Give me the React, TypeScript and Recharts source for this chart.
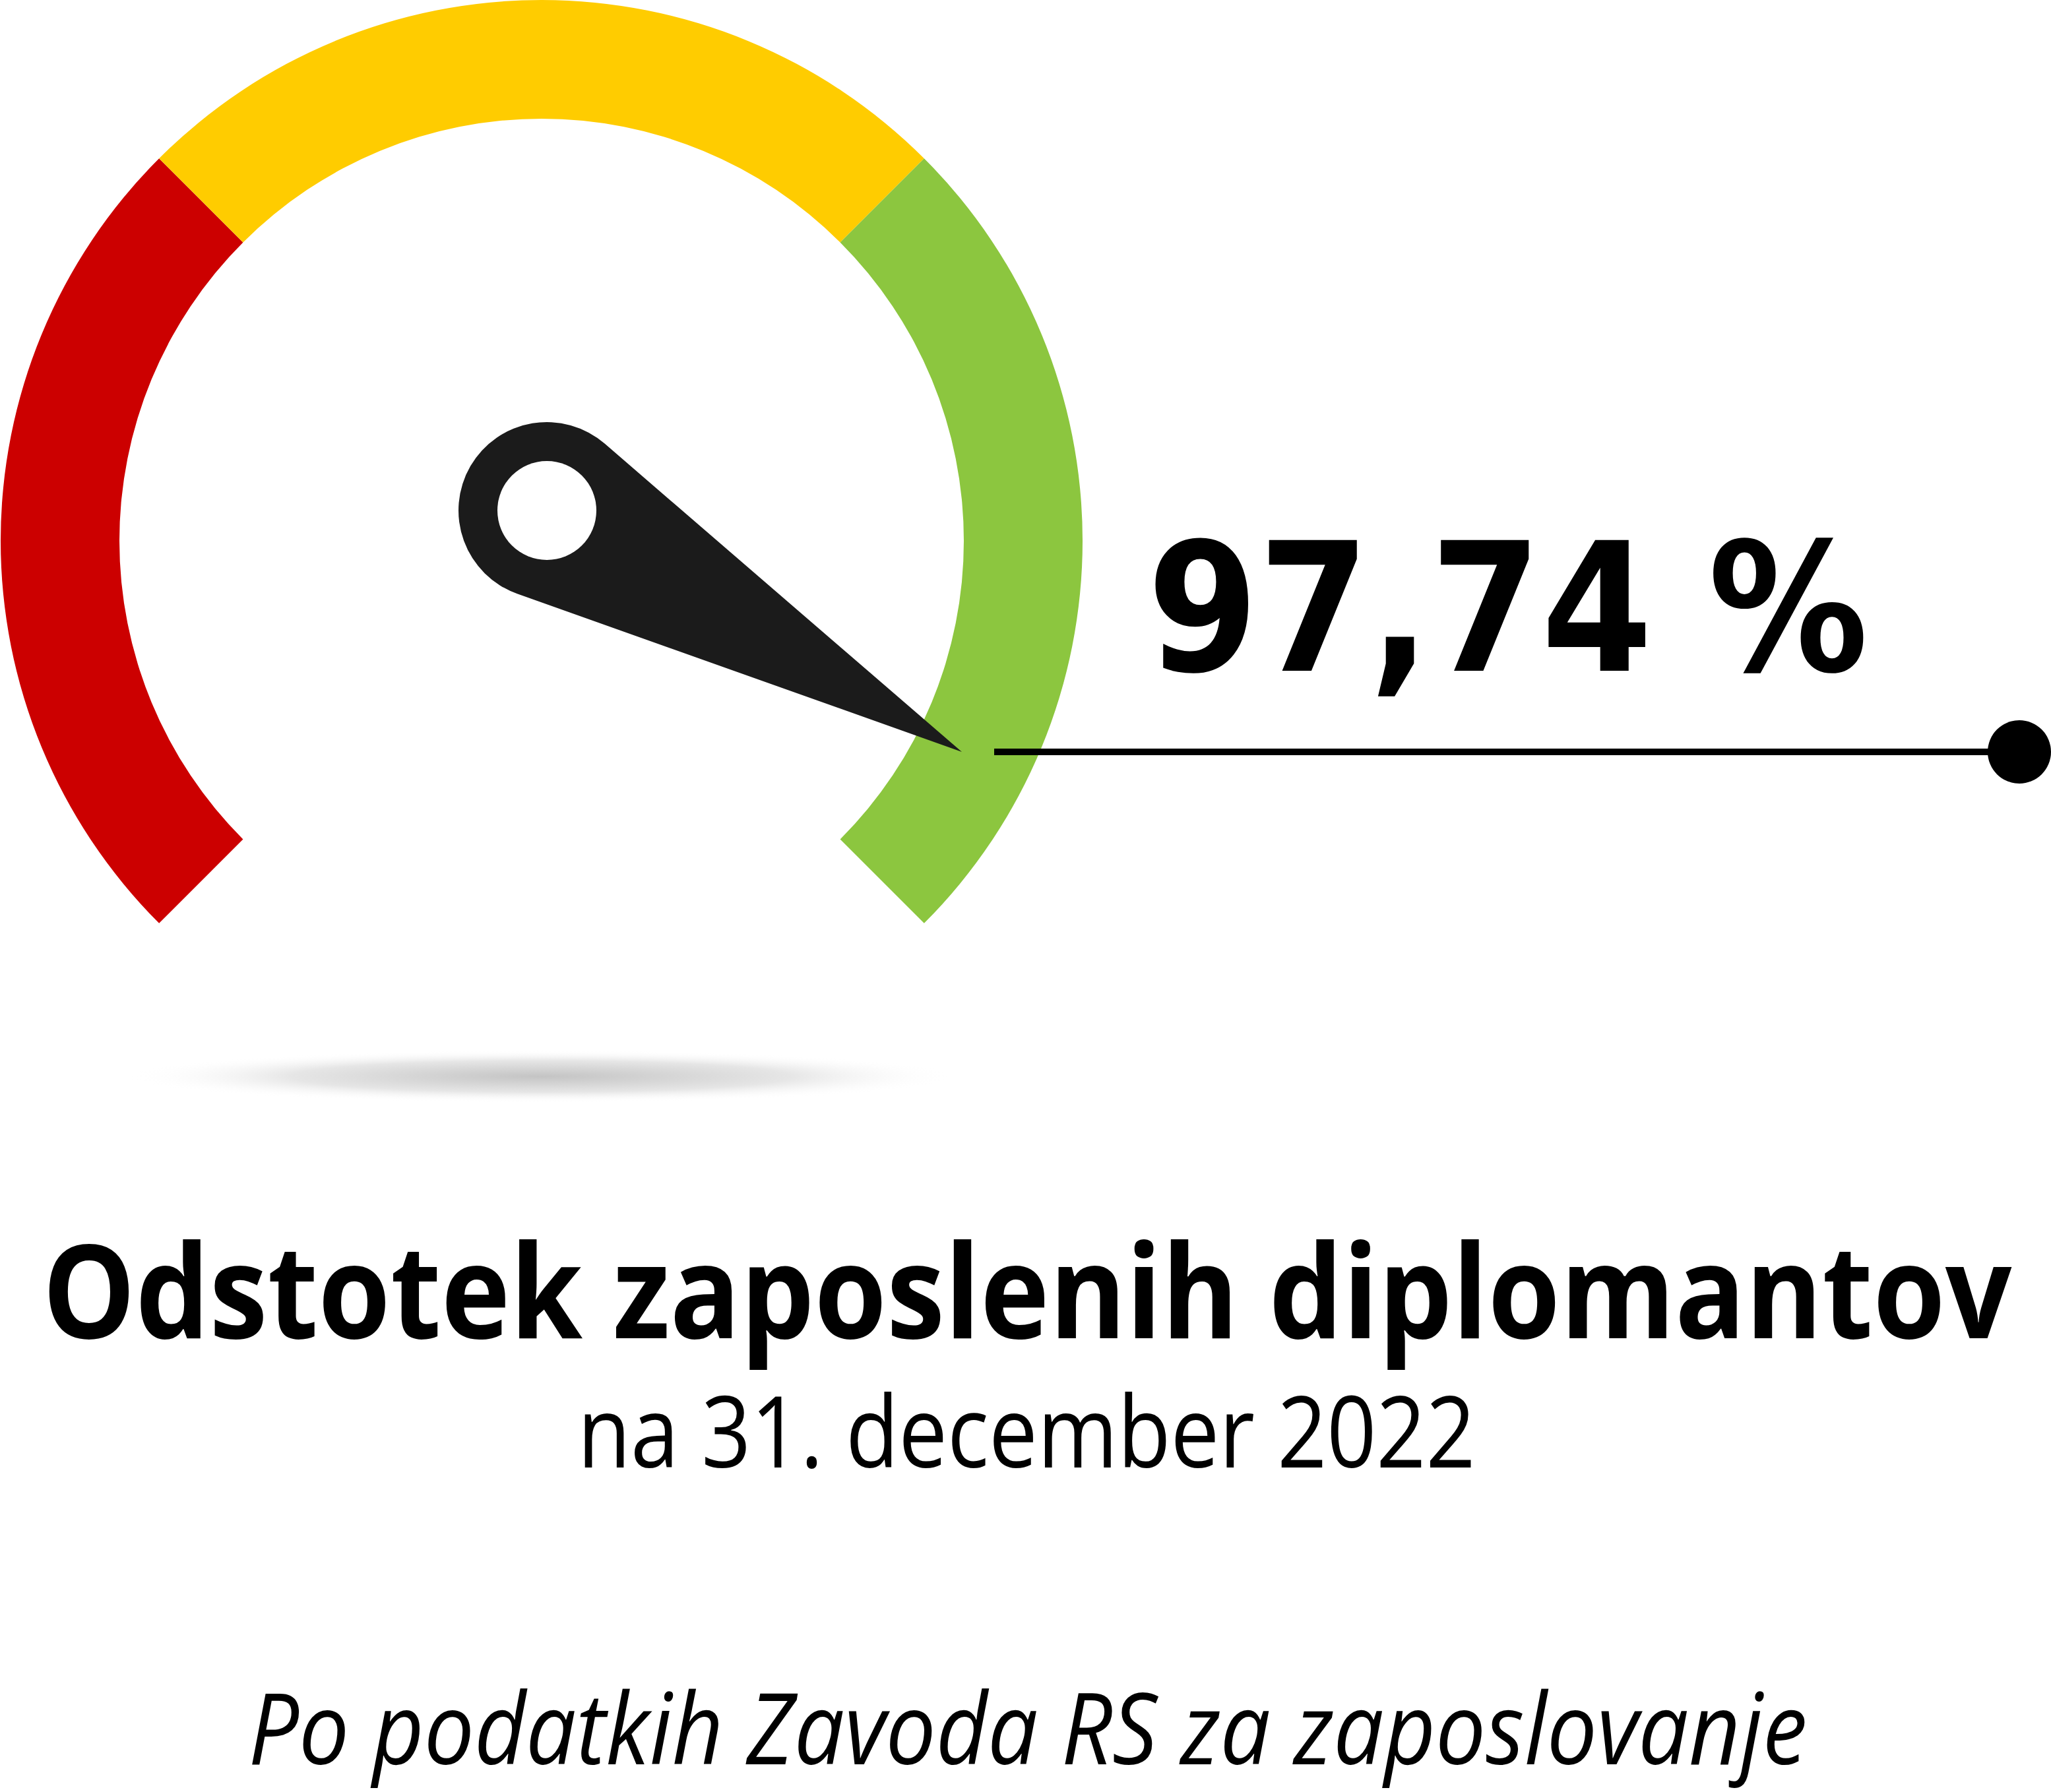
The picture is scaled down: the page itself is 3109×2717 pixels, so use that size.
import React from "react";
import { PieChart, Pie, Cell } from "recharts";

// gauge bands (equal thirds) and the reported share
const bandNames = ["nizko", "srednje", "visoko"];
const bandValues = [1, 1, 1];
const bandColors = ["#cc0000", "#ffcc00", "#8cc63f"];
const employedPct = [97.74];

const titleText = "Odstotek zaposlenih diplomantov";
const dateText = "na 31. december 2022";
const sourceText = "Po podatkih Zavoda RS za zaposlovanje";

const W = 3109;
const H = 2717;
const CX = 821;
const CY = 820;

const bands = bandNames.map((name, i) => ({ name, value: bandValues[i] }));

const formatPct = (v: number) => v.toFixed(2).replace(".", ",") + " %";

// needle + leader line, drawn above the pie
const Overlay = () => {
  const hx = CX + 8;
  const hy = CY - 46;
  const r = 134;
  const tx = 1458;
  const ty = 1140;
  const d = Math.hypot(tx - hx, ty - hy);
  const th = Math.atan2(ty - hy, tx - hx);
  const a = Math.acos(r / d);
  const p1 = [hx + r * Math.cos(th - a), hy + r * Math.sin(th - a)];
  const p2 = [hx + r * Math.cos(th + a), hy + r * Math.sin(th + a)];
  const path = `M${tx},${ty} L${p1[0]},${p1[1]} A${r},${r} 0 1 0 ${p2[0]},${p2[1]} Z`;
  return (
    <svg
      width={W}
      height={H}
      style={{ position: "absolute", left: 0, top: 0, pointerEvents: "none" }}
    >
      <path d={path} fill="#1b1b1b" />
      <circle cx={hx} cy={hy} r={75} fill="#ffffff" />
      <line x1={1507} y1={1140} x2={3061} y2={1140} stroke="#000" strokeWidth={10} />
      <circle cx={3061} cy={1140} r={48} fill="#000" />
    </svg>
  );
};

export default function App() {
  return (
    <div style={{ position: "absolute", left: 0, top: 0, width: W, height: H, background: "#fff" }}>
      <PieChart width={W} height={H} margin={{ top: 0, right: 0, bottom: 0, left: 0 }}>
        <defs>
          <radialGradient id="shadow" cx="50%" cy="50%" r="50%">
            <stop offset="0%" stopColor="#c4c4c4" />
            <stop offset="60%" stopColor="#e6e6e6" />
            <stop offset="100%" stopColor="#ffffff" stopOpacity={0} />
          </radialGradient>
        </defs>
        <ellipse cx={820} cy={1632} rx={630} ry={40} fill="url(#shadow)" />
        <Pie
          data={bands}
          dataKey="value"
          nameKey="name"
          cx={CX}
          cy={CY}
          innerRadius={640}
          outerRadius={820}
          startAngle={225}
          endAngle={-45}
          paddingAngle={0}
          stroke="none"
          isAnimationActive={false}
        >
          {bands.map((b, i) => (
            <Cell key={b.name} fill={bandColors[i]} stroke="none" />
          ))}
        </Pie>
        <text
          x={1739}
          y={1017}
          fontFamily="'DejaVu Sans', sans-serif"
          fontWeight={700}
          fontSize={272}
          textLength={1093}
          lengthAdjust="spacingAndGlyphs"
          fill="#000"
        >
          {formatPct(employedPct[0])}
        </text>
        <text
          x={1557}
          y={2029}
          textAnchor="middle"
          fontFamily="'Open Sans', sans-serif"
          fontWeight={700}
          fontSize={197}
          textLength={2985}
          lengthAdjust="spacingAndGlyphs"
          fill="#000"
        >
          {titleText}
        </text>
        <text
          x={1556}
          y={2225}
          textAnchor="middle"
          fontFamily="'Open Sans', sans-serif"
          fontWeight={400}
          fontSize={150}
          textLength={1361}
          lengthAdjust="spacingAndGlyphs"
          fill="#000"
        >
          {dateText}
        </text>
        <text
          x={1558}
          y={2675}
          textAnchor="middle"
          fontFamily="'Open Sans', sans-serif"
          fontStyle="italic"
          fontWeight={400}
          fontSize={150}
          textLength={2363}
          lengthAdjust="spacingAndGlyphs"
          fill="#000"
        >
          {sourceText}
        </text>
      </PieChart>
      <Overlay />
    </div>
  );
}
